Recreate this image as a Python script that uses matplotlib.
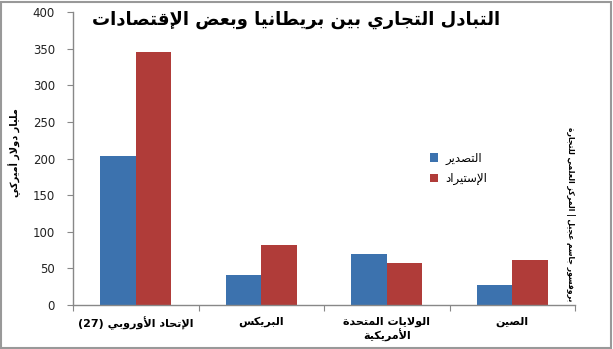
import re
import matplotlib
matplotlib.use("Agg")
import matplotlib.pyplot as plt
import numpy as np
from matplotlib.patches import Rectangle

# ---------------- data ----------------
categories = ["الإتحاد الأوروبي (27)", "البريكس", "الولايات المتحدة\nالأمريكية", "الصين"]
exports = [204, 41, 69, 27]
imports = [346, 82, 58, 62]
series_names = ["التصدير", "الإستيراد"]
title = "التبادل التجاري بين بريطانيا وبعض الإقتصادات"
ylabel = "مليار دولار أميركي"
source = "بروفسور جاسم عجيل | المركز العلمي للتجارة"
yticks = [0, 50, 100, 150, 200, 250, 300, 350, 400]

# ---------------- simple Arabic shaping (presentation forms) ----------------
DUAL = {'ئ': 0xFE89, 'ب': 0xFE8F, 'ت': 0xFE95, 'ث': 0xFE99, 'ج': 0xFE9D, 'ح': 0xFEA1,
        'خ': 0xFEA5, 'س': 0xFEB1, 'ش': 0xFEB5, 'ص': 0xFEB9, 'ض': 0xFEBD, 'ط': 0xFEC1,
        'ظ': 0xFEC5, 'ع': 0xFEC9, 'غ': 0xFECD, 'ف': 0xFED1, 'ق': 0xFED5, 'ك': 0xFED9,
        'ل': 0xFEDD, 'م': 0xFEE1, 'ن': 0xFEE5, 'ه': 0xFEE9, 'ي': 0xFEF1}
RIGHT = {'آ': 0xFE81, 'أ': 0xFE83, 'ؤ': 0xFE85, 'إ': 0xFE87, 'ا': 0xFE8D, 'ة': 0xFE93,
         'د': 0xFEA9, 'ذ': 0xFEAB, 'ر': 0xFEAD, 'ز': 0xFEAF, 'و': 0xFEED, 'ى': 0xFEEF}
LAMALEF = {'آ': 0xFEF5, 'أ': 0xFEF7, 'إ': 0xFEF9, 'ا': 0xFEFB}


def shape_line(s):
    units = []
    i = 0
    while i < len(s):
        c = s[i]
        if c == 'ل' and i + 1 < len(s) and s[i + 1] in LAMALEF:
            units.append(('R', LAMALEF[s[i + 1]]))
            i += 2
            continue
        if c in DUAL:
            units.append(('D', DUAL[c]))
        elif c in RIGHT:
            units.append(('R', RIGHT[c]))
        else:
            units.append(('N', c))
        i += 1
    out = []
    for j, (k, b) in enumerate(units):
        if k == 'N':
            out.append(b)
            continue
        prev = j > 0 and units[j - 1][0] == 'D'
        nxt = k == 'D' and j + 1 < len(units) and units[j + 1][0] in 'DR'
        if k == 'D':
            off = 3 if (prev and nxt) else 2 if nxt else 1 if prev else 0
        else:
            off = 1 if prev else 0
        out.append(chr(b + off))
    rev = ''.join(out)[::-1]
    rev = re.sub(r'[0-9]+', lambda m: m.group(0)[::-1], rev)
    rev = rev.translate(str.maketrans('()', ')('))
    return rev


def ar(s):
    return '\n'.join(shape_line(l) for l in s.split('\n'))


# ---------------- plot ----------------
plt.rcParams['font.family'] = ['DejaVu Sans']
fig = plt.figure(figsize=(6.13, 3.49), dpi=100)
ax = fig.add_axes([73 / 613, 44 / 349, 502 / 613, 293 / 349])

blue = '#3C72AE'
red = '#B03C39'
x = np.arange(len(categories))
w = 0.284
ax.bar(x - w / 2, exports, w, color=blue, label=ar(series_names[0]))
ax.bar(x + w / 2, imports, w, color=red, label=ar(series_names[1]))

ax.set_xlim(-0.5, len(categories) - 0.5)
ax.set_ylim(0, 400)
ax.set_yticks(yticks)
ax.set_yticklabels([str(v) for v in yticks], fontsize=8.5, color='#222222')
ax.set_xticks(np.arange(len(categories) + 1) - 0.5)
ax.set_xticklabels([])
ax.tick_params(axis='x', length=4, color='#888888', direction='out')
ax.tick_params(axis='y', length=4, color='#888888', direction='out', pad=9)
for i, c in enumerate(categories):
    ax.text(i, -16, ar(c), ha='center', va='top', fontsize=8, fontweight='bold',
            multialignment='center', linespacing=1.2, transform=ax.transData)

for s in ['top', 'right']:
    ax.spines[s].set_visible(False)
for s in ['left', 'bottom']:
    ax.spines[s].set_color('#888888')
    ax.spines[s].set_linewidth(1.0)

ax.legend(loc='upper left', bbox_to_anchor=(0.69, 0.56), frameon=False,
          handlelength=0.7, handleheight=0.7, fontsize=8.5, labelspacing=0.65,
          handletextpad=0.6)

fig.text(296 / 613, 1 - 20 / 349, ar(title), ha='center', va='center', fontsize=13,
         fontweight='bold')
fig.text(15 / 613, 1 - 153 / 349, ar(ylabel), ha='center', va='center', rotation=90,
         fontsize=7, fontweight='bold')
fig.text(570 / 613, 1 - 214 / 349, ar(source), ha='center', va='center', rotation=270,
         fontsize=5.5, fontweight='bold')

fig.patches.append(Rectangle((0.002, 0.004), 0.995, 0.99, transform=fig.transFigure,
                             fill=False, edgecolor='#999999', linewidth=1.5))

fig.savefig('out.png', dpi=100)
